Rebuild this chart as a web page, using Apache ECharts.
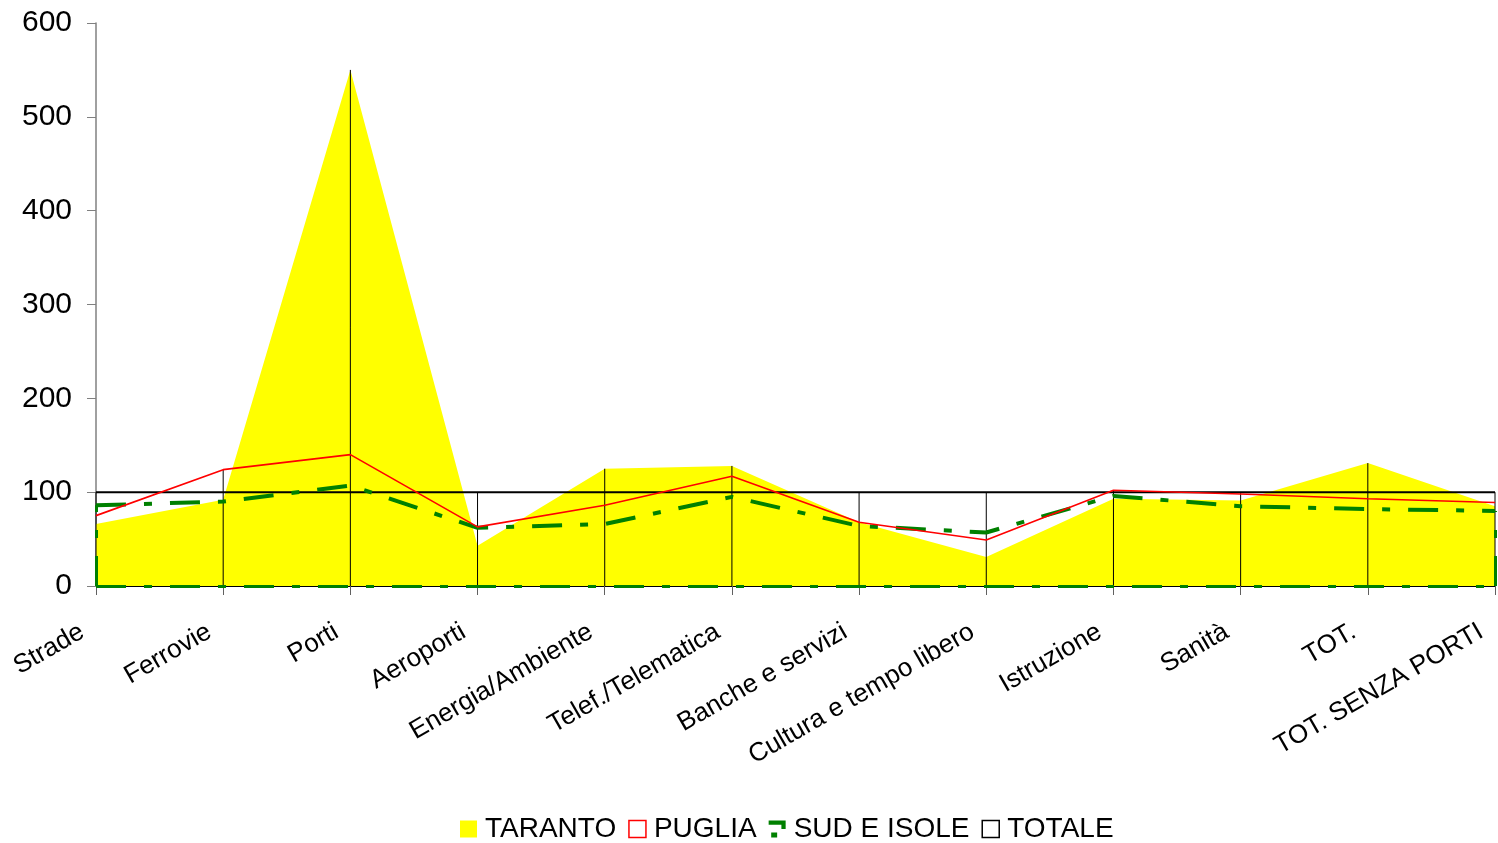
<!DOCTYPE html>
<html>
<head>
<meta charset="utf-8">
<script src="https://cdn.jsdelivr.net/npm/echarts@6/dist/echarts.min.js"></script>
<style>
    html, body { margin: 0; padding: 0; background: #fff; }
    #chart { width: 1498px; height: 843px; }
</style>
</head>
<body>
<div id="chart"></div>
<script>
const categories = ['Strade', 'Ferrovie', 'Porti', 'Aeroporti', 'Energia/Ambiente', 'Telef./Telematica',
    'Banche e servizi', 'Cultura e tempo libero', 'Istruzione', 'Sanità', 'TOT.', 'TOT. SENZA PORTI']
const taranto = [66, 92, 550, 43, 125, 128, 68, 31, 93, 91, 131, 85]
const puglia = [75, 124, 140, 63, 86, 117, 68, 49, 102, 98, 93, 89]
const sudIsole = [86, 90, 107, 62, 66, 95, 64, 57, 96, 85, 82, 80]
const totale = [100, 100, 100, 100, 100, 100, 100, 100, 100, 100, 100, 100]
const yTicks = [0, 100, 200, 300, 400, 500, 600]

// drop lines go up to the highest series at each category
const dropTop = categories.map((c, i) => [i, Math.max(taranto[i], puglia[i], sudIsole[i], totale[i])])

const font = 'Liberation Sans, Arial, sans-serif'
const greenDash = [30, 18, 8, 18]
const last = categories.length - 1

let myChart = echarts.init(document.getElementById('chart'))
let option = {
    animation: false,
    backgroundColor: '#fff',
    textStyle: { fontFamily: font, color: '#000' },
    grid: { left: 96, right: 3, top: 23, bottom: 257, outerBoundsMode: 'none' },
    legend: {
        left: 455,
        top: 810,
        itemWidth: 17,
        itemHeight: 17,
        itemGap: 12,
        textStyle: { fontFamily: font, fontSize: 28, color: '#000', padding: [0, 0, 0, 3] },
        data: [
            { name: 'TARANTO', icon: 'rect', itemStyle: { color: '#ffff00', borderWidth: 0 } },
            { name: 'PUGLIA', icon: 'rect', itemStyle: { color: 'transparent', borderColor: '#ff0000', borderWidth: 1.5 } },
            { name: 'SUD E ISOLE', icon: 'path://M0,0 H20 V10 H15 V5 H0 Z M3,14 H10 V20 H3 Z', itemStyle: { color: '#008000', borderWidth: 0 } },
            { name: 'TOTALE', icon: 'rect', itemStyle: { color: 'transparent', borderColor: '#000', borderWidth: 1.5 } }
        ]
    },
    xAxis: {
        type: 'category',
        data: categories,
        boundaryGap: false,
        axisLine: { lineStyle: { color: '#000', width: 2 } },
        axisTick: { length: 9, lineStyle: { color: '#606060', width: 1 } },
        axisLabel: {
            interval: 0,
            rotate: 30,
            margin: 36,
            fontSize: 26,
            fontFamily: font,
            color: '#000',
            padding: [0, 16, 0, 0]
        },
        splitLine: { show: false }
    },
    yAxis: {
        type: 'value',
        min: yTicks[0],
        max: yTicks[yTicks.length - 1],
        interval: 100,
        axisLine: { show: true, lineStyle: { color: '#808080', width: 1.5 } },
        axisTick: { show: true, length: 9, lineStyle: { color: '#808080', width: 1 } },
        axisLabel: { fontSize: 30, margin: 24, fontFamily: font, color: '#000' },
        splitLine: { show: false }
    },
    series: [
        {
            name: 'TARANTO',
            type: 'line',
            data: taranto,
            symbol: 'none',
            lineStyle: { width: 0, color: '#ffff00' },
            itemStyle: { color: '#ffff00' },
            areaStyle: { color: '#ffff00', opacity: 1 },
            z: 1
        },
        {
            name: 'drop',
            type: 'custom',
            data: dropTop,
            encode: { x: 0, y: 1 },
            z: 2,
            silent: true,
            renderItem: function (params, api) {
                let p0 = api.coord([api.value(0), 0])
                let p1 = api.coord([api.value(0), api.value(1)])
                return {
                    type: 'line',
                    shape: { x1: p0[0], y1: p0[1], x2: p1[0], y2: p1[1] },
                    style: { stroke: '#000', lineWidth: 1 }
                }
            }
        },
        {
            name: 'TOTALE',
            type: 'line',
            data: totale,
            symbol: 'none',
            lineStyle: { width: 2, color: '#000' },
            itemStyle: { color: '#000' },
            z: 3
        },
        {
            name: 'SUD E ISOLE',
            type: 'line',
            data: sudIsole,
            symbol: 'none',
            lineStyle: { width: 4, color: '#008000', type: greenDash },
            itemStyle: { color: '#008000' },
            z: 4,
            markLine: {
                silent: true,
                symbol: 'none',
                label: { show: false },
                lineStyle: { width: 3, color: '#008000', type: greenDash },
                data: [
                    { yAxis: 0 },
                    [{ coord: [0, 0] }, { coord: [0, sudIsole[0]] }],
                    [{ coord: [last, 0] }, { coord: [last, sudIsole[last]] }]
                ]
            }
        },
        {
            name: 'PUGLIA',
            type: 'line',
            data: puglia,
            symbol: 'none',
            lineStyle: { width: 1.6, color: '#ff0000' },
            itemStyle: { color: '#ff0000' },
            z: 5
        }
    ]
}
myChart.setOption(option)
window.addEventListener('resize', () => { myChart.resize() })
</script>
</body>
</html>
